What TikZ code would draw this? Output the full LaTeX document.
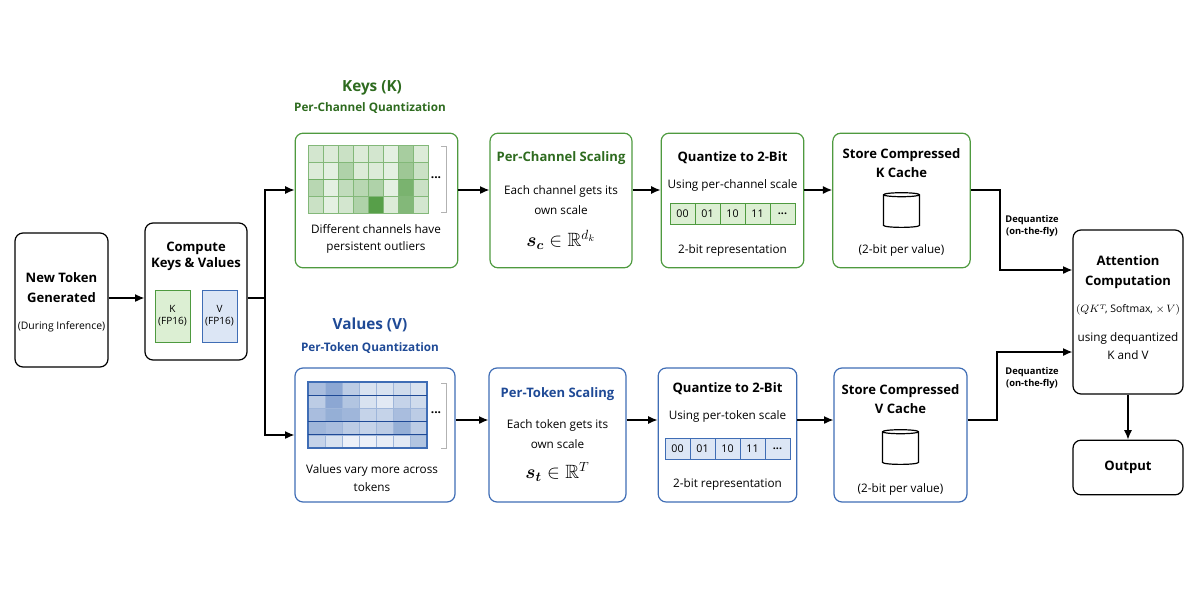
\documentclass[tikz,border=0pt]{standalone}
\usepackage{amsmath,amssymb,bm}
\usepackage{fontspec}
\setmainfont{Open Sans}
\usetikzlibrary{arrows.meta,shapes.geometric}
\definecolor{kg}{HTML}{4E9A3F}
\definecolor{kgd}{HTML}{2E6B1F}
\definecolor{kfill}{HTML}{DCEFD3}
\definecolor{vb}{HTML}{3F6DB5}
\definecolor{vbd}{HTML}{1F4A96}
\definecolor{vfill}{HTML}{DCE6F5}
\newcommand{\mydots}{\textbf{...}}
\tikzset{
 box/.style={draw=black,rounded corners=6pt,line width=0.9pt},
 gbox/.style={draw=kg,rounded corners=6pt,line width=0.9pt},
 bbox/.style={draw=vb,rounded corners=6pt,line width=0.9pt},
 arr/.style={-{Latex[length=7pt,width=6pt]},line width=1pt},
 tx/.style={font=\fontsize{8.8}{10.5}\selectfont,align=center},
 tb/.style={font=\fontsize{9.8}{12}\selectfont\bfseries,align=center},
 qc/.style={draw,minimum width=18.75pt,minimum height=16pt,inner sep=0pt,font=\fontsize{8}{9}\selectfont},
 cyl/.style={cylinder,shape border rotate=90,draw,line width=0.9pt,minimum width=27pt,minimum height=26pt,aspect=0.45},
}
\begin{document}
\begin{tikzpicture}[x=0.75pt,y=-0.75pt]
\useasboundingbox (0,0) rectangle (1200,600);
% boxes
\node[box,minimum width=69.75pt,minimum height=100.5pt] (nt) at (61.5,300) {};
\node[tb] at (61.5,288) {New Token\\[3pt]Generated};
\node[tx,font=\fontsize{7.8}{9}\selectfont] at (61.5,327) {(During Inference)};
\node[box,minimum width=76.5pt,minimum height=102.75pt] (cp) at (196,291.5) {};
\node[tb] at (196,256) {Compute\\Keys \& Values};
\node[draw=kg,fill=kfill,minimum width=26pt,minimum height=39pt,inner sep=0pt,font=\fontsize{7.5}{9}\selectfont,align=center] (kk) at (172.5,316) {K\\(FP16)};
\node[draw=vb,fill=vfill,minimum width=26pt,minimum height=39pt,inner sep=0pt,font=\fontsize{7.5}{9}\selectfont,align=center] (vv) at (219.5,316) {V\\(FP16)};
% keys row
\node[font=\fontsize{11.5}{12}\selectfont\bfseries,text=kgd] (kt) at (372,88) {Keys (K)};
\node[font=\fontsize{8.8}{10}\selectfont\bfseries,text=kgd] (ks) at (370,108) {Per-Channel Quantization};
\node[gbox,minimum width=122pt,minimum height=101pt] (kh) at (376.5,200.5) {};
\foreach \r/\row in {0/{.25,.2,.3,.2,.25,.15,.5,.2},1/{.2,.15,.45,.2,.2,.15,.55,.3},2/{.4,.15,.35,.4,.45,.15,.75,.3},3/{.3,.15,.25,.45,.95,.2,.7,.25}}{
 \foreach \v [count=\c from 0] in \row {
  \pgfmathsetmacro\pc{\v*100}
  \fill[kg!\pc!white] (308+\c*15,145+\r*17) rectangle ++(15,17);
  \draw[kg!70!white,line width=0.4pt] (308+\c*15,145+\r*17) rectangle ++(15,17);
 }}
\draw[kg!80!white,line width=0.7pt] (308,179) -- (428,179);
\node[font=\small] at (436,178) {\mydots};
\draw[gray!60] (441,146) -- (446,146) -- (446,212) -- (441,212);
\node[tx] at (376,239) {Different channels have\\[2pt]persistent outliers};
\node[gbox,minimum width=106.5pt,minimum height=101pt] (ks2) at (561,200.5) {};
\node[tb,text=kgd] at (561,158) {Per-Channel Scaling};
\node[tx] at (561,200) {Each channel gets its\\[5pt]own scale};
\node[font=\Large] at (561,240) {$\bm{s_c}\in\mathbb{R}^{d_k}$};
\node[gbox,minimum width=107pt,minimum height=101pt] (kq) at (732.5,200.5) {};
\node[tb] at (732.5,158) {Quantize to 2-Bit};
\node[tx] at (732.5,185) {Using per-channel scale};
\foreach \t [count=\i from 0] in {00,01,10,11,\mydots}
 \node[qc,draw=kg,fill=kfill] at (682.5+\i*25,214) {\t};
\node[tx] at (732.5,250) {2-bit representation};
\node[gbox,minimum width=103pt,minimum height=101pt] (kst) at (901.5,200.5) {};
\node[tb] at (901.5,163) {Store Compressed\\[2pt]K Cache};
\node[cyl] at (901.5,212) {};
\node[tx] at (901.5,250) {(2-bit per value)};
% values row
\node[font=\fontsize{11.5}{12}\selectfont\bfseries,text=vbd] (vt) at (370,325) {Values (V)};
\node[font=\fontsize{8.8}{10}\selectfont\bfseries,text=vbd] (vs) at (370,348) {Per-Token Quantization};
\node[bbox,minimum width=120pt,minimum height=100.5pt] (vh) at (375,435) {};
\foreach \r/\row in {0/{.45,.6,.35,.2,.2,.25,.2},1/{.35,.6,.4,.2,.15,.3,.25},2/{.45,.55,.5,.3,.3,.45,.35},3/{.5,.45,.35,.3,.35,.55,.35},4/{.3,.2,.1,.1,.12,.15,.4}}{
 \foreach \v [count=\c from 0] in \row {
  \pgfmathsetmacro\pc{\v*100}
  \fill[vb!\pc!white] (308+\c*17,382+\r*13.2) rectangle ++(17,13.2);
  \draw[vb!50!white,line width=0.3pt] (308+\c*17,382+\r*13.2) rectangle ++(17,13.2);
 }}
\draw[vb,line width=0.9pt] (308,382) rectangle (427,448);
\draw[vbd,line width=0.7pt] (308,395.2) -- (427,395.2) (308,421.6) -- (427,421.6) (308,434.8) -- (427,434.8);
\node[font=\small] at (436,413) {\mydots};
\draw[gray!60] (441,383) -- (446,383) -- (446,448) -- (441,448);
\node[tx] at (372,478) {Values vary more across\\[3pt]tokens};
\node[bbox,minimum width=102.75pt,minimum height=100.5pt] (vsc) at (557.5,435) {};
\node[tb,text=vbd] at (557.5,394) {Per-Token Scaling};
\node[tx] at (557.5,434) {Each token gets its\\[5pt]own scale};
\node[font=\Large] at (557.5,472) {$\bm{s_t}\in\mathbb{R}^{T}$};
\node[bbox,minimum width=104pt,minimum height=100.5pt] (vq) at (727.5,435) {};
\node[tb] at (727.5,389) {Quantize to 2-Bit};
\node[tx] at (727.5,416) {Using per-token scale};
\foreach \t [count=\i from 0] in {00,01,10,11,\mydots}
 \node[qc,draw=vb,fill=vfill] at (677.5+\i*25,449) {\t};
\node[tx] at (727.5,484) {2-bit representation};
\node[bbox,minimum width=99.75pt,minimum height=100.5pt] (vst) at (900.5,435) {};
\node[tb] at (900.5,399) {Store Compressed\\[2pt]V Cache};
\node[cyl] at (900.5,449) {};
\node[tx] at (900.5,489) {(2-bit per value)};
% attention & output
\node[box,minimum width=82.5pt,minimum height=123pt] (att) at (1128,312) {};
\node[tb] at (1128,272) {Attention\\[3pt]Computation};
\node[tx,font=\fontsize{7.8}{9}\selectfont] at (1128,310) {$(QK^T\!$, Softmax, $\times\, V)$};
\node[tx] at (1128,346) {using dequantized\\[3pt]K and V};
\node[box,minimum width=82.5pt,minimum height=41pt] (out) at (1128,467.5) {};
\node[tb] at (1128,467.5) {Output};
% connectors
\draw[arr] (nt.east |- 0,298) -- (cp.west |- 0,298);
\coordinate (sp) at (265,298);
\draw[line width=1pt] (cp.east |- 0,298) -- (sp);
\draw[arr] (sp) |- (kh.west |- 0,190);
\draw[arr] (sp) |- (vh.west |- 0,435);
\draw[arr] (kh.east |- 0,190) -- (ks2.west |- 0,190);
\draw[arr] (ks2.east |- 0,190) -- (kq.west |- 0,190);
\draw[arr] (kq.east |- 0,190) -- (kst.west |- 0,190);
\draw[arr] (vh.east |- 0,420) -- (vsc.west |- 0,420);
\draw[arr] (vsc.east |- 0,420) -- (vq.west |- 0,420);
\draw[arr] (vq.east |- 0,420) -- (vst.west |- 0,420);
\draw[arr] (kst.east |- 0,190) -- (1000,190) |- (att.west |- 0,270);
\draw[arr] (vst.east |- 0,420) -- (997,420) |- (att.west |- 0,352);
\node[tx,font=\fontsize{7}{9}\selectfont\bfseries] at (1032,226) {Dequantize\\(on-the-fly)};
\node[tx,font=\fontsize{7}{9}\selectfont\bfseries] at (1032,378) {Dequantize\\(on-the-fly)};
\draw[arr] (att) -- (out);
\end{tikzpicture}
\end{document}
